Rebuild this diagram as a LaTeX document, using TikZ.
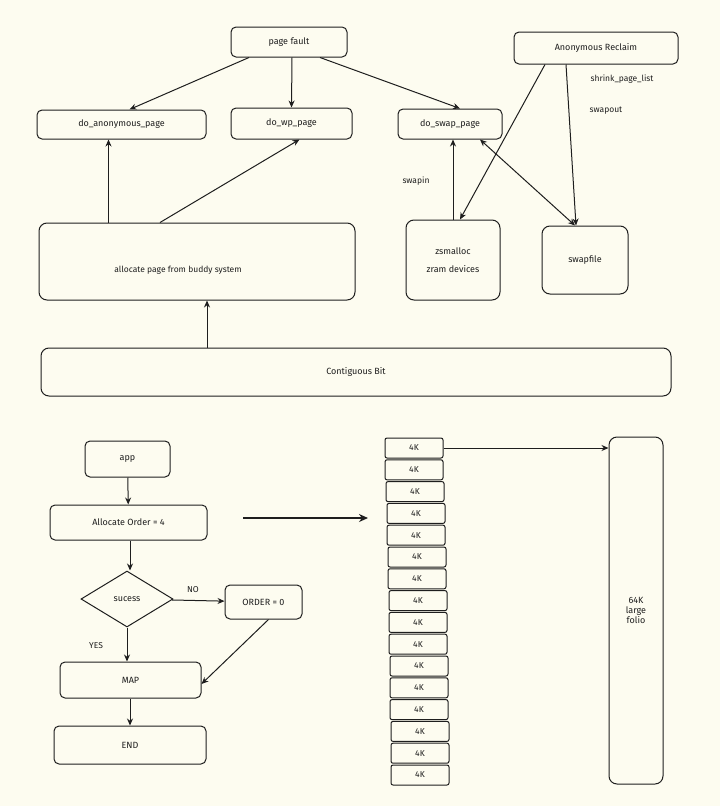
\documentclass[tikz,border=0pt]{standalone}
\usepackage{fontspec}
\setmainfont{Fira Sans}
\usetikzlibrary{shapes.geometric,arrows.meta}
\definecolor{bg}{HTML}{FDFCF0}
\definecolor{ink}{HTML}{1E1E1E}
\begin{document}
\begin{tikzpicture}[x=1pt,y=-1pt,
  bx/.style={draw=ink,line width=1pt,rounded corners=5pt,font=\fontsize{9}{10}\selectfont,text=ink},
  kb/.style={bx,rounded corners=2pt,minimum width=58pt,minimum height=20pt,font=\fontsize{8.5}{10}\selectfont},
  ar/.style={draw=ink,line width=1pt,-{Stealth[length=7pt,width=6pt]}},
  lb/.style={font=\fontsize{8.5}{10}\selectfont,text=ink}]
\fill[bg] (0,0) rectangle (720,806);
\useasboundingbox (0,0) rectangle (720,806);
\node[bx,minimum width=116pt,minimum height=30pt] (pf) at (289,42) {page fault};
\node[bx,minimum width=169pt,minimum height=29pt] (da) at (121.5,124.5) {do\_anonymous\_page};
\node[bx,minimum width=121pt,minimum height=31pt] (dw) at (291.5,123.5) {do\_wp\_page};
\node[bx,minimum width=104pt,minimum height=30pt] (ds) at (450,124) {do\_swap\_page};
\node[bx,minimum width=164pt,minimum height=32pt] (ar) at (596,48) {Anonymous Reclaim};
\node[bx,minimum width=316pt,minimum height=77pt,rounded corners=8pt] (al) at (197,261.5) {};
\node[lb] (alt) at (178,270) {allocate page from buddy system};
\node[bx,minimum width=94pt,minimum height=80pt,rounded corners=8pt,align=center] (zs) at (453,260) {zsmalloc\\[8pt]zram devices};
\node[bx,minimum width=86pt,minimum height=68pt,rounded corners=8pt] (sf) at (585,260) {swapfile};
\node[bx,minimum width=630pt,minimum height=48pt,rounded corners=8pt] (cb) at (356,372) {Contiguous Bit};
\draw[ar] ([xshift=-40pt]pf.south) -- ([xshift=8pt]da.north);
\draw[ar] ([xshift=3pt]pf.south) -- ([xshift=0pt]dw.north);
\draw[ar] ([xshift=31pt]pf.south) -- ([xshift=10pt]ds.north);
\draw[ar] ([xshift=-13pt]da.south |- al.north) -- ([xshift=-13pt]da.south);
\draw[ar] ([xshift=-37pt]al.north) -- ([xshift=8pt]dw.south);
\draw[ar] (cb.north -| 207,0) -- (al.south -| 207,0);
\draw[ar] (zs.north) -- (ds.south -| zs.north);
\node[lb] at (416,181) {swapin};
\draw[ar] ([xshift=-51pt]ar.south) -- ([xshift=7pt]zs.north);
\draw[ar] ([xshift=-30pt]ar.south) -- ([xshift=-9pt]sf.north);
\node[lb] at (622,79) {shrink\_page\_list};
\node[lb] at (606,111) {swapout};
\draw[draw=ink,line width=1pt,{Stealth[length=7pt,width=6pt]}-{Stealth[length=7pt,width=6pt]}] ([xshift=30pt]ds.south) -- ([xshift=-10pt]sf.north);
% flowchart
\node[bx,minimum width=85pt,minimum height=36pt] (app) at (127.5,459) {app};
\node[bx,minimum width=157pt,minimum height=35pt] (ao) at (128.5,522.5) {Allocate Order = 4};
\node[draw=ink,line width=1pt,diamond,aspect=1.7,inner sep=2pt,minimum width=92pt,minimum height=56pt,font=\fontsize{9}{10}\selectfont,text=ink] (sc) at (127,599) {sucess};
\node[bx,minimum width=77pt,minimum height=34pt] (o0) at (263.5,602) {ORDER = 0};
\node[bx,minimum width=141pt,minimum height=36pt] (map) at (130.5,680) {MAP};
\node[bx,minimum width=152pt,minimum height=38pt] (end) at (130,745) {END};
\draw[ar] (app) -- (ao);
\draw[ar] (ao.south -| 130,0) -- (sc.north -| 130,0);
\draw[ar] (sc) -- (o0) node[lb,pos=0.4,above=4pt] {NO};
\draw[ar] (sc.south) -- (map.north -| sc.south);
\node[lb] at (96,646) {YES};
\draw[ar] ([xshift=5pt]o0.south) -- ([yshift=-4pt]map.east);
\draw[ar] (map.south -| 130,0) -- (end.north -| 130,0);
\coordinate (b1) at (243,518);
\coordinate (b2) at (368,518);
\draw[draw=ink,line width=1.8pt,-{Stealth[length=9pt,width=8pt]}] (b1) -- (b2);
% 4K stack
\foreach \i/\dx in {0/0,1/0,2/1,3/2,4/2,5/3,6/3,7/4,8/4,9/4,10/5,11/5,12/5,13/6,14/6,15/6}{
  \node[kb] (k\i) at (414+\dx,448+\i*21.8) {4K};
}
\node[bx,minimum width=54pt,minimum height=347pt,rounded corners=8pt,align=center] (lf) at (636,610.5) {64K\\large\\folio};
\draw[ar] (k0.east) -- (lf.west |- k0.east);
\end{tikzpicture}
\end{document}
